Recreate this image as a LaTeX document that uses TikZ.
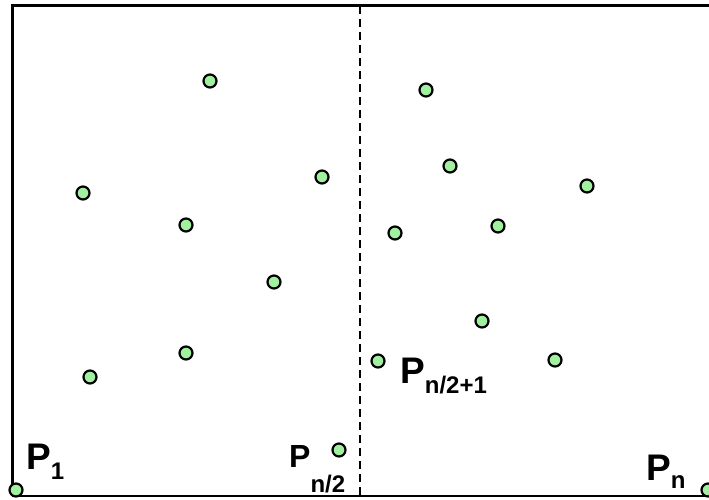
\documentclass[tikz,border=0pt]{standalone}
\usepackage{fontspec}
\setmainfont{Liberation Sans}
\begin{document}
\begin{tikzpicture}[x=1pt,y=-1pt,
  pt/.style={circle,draw=black,line width=2.2pt,fill=ptgreen,inner sep=0pt,minimum size=13pt},
  lbl/.style={anchor=base west,inner sep=0pt,font=\bfseries}]
\definecolor{ptgreen}{HTML}{A0F0A0}
\useasboundingbox (0,0) rectangle (709,500);
\draw[line width=3pt] (12,496) coordinate (bl) -- (12,6) coordinate (tl) -- (720,6) coordinate (tr);
\draw[line width=2.5pt] (bl) -- (720,496) coordinate (br);
\draw[line width=2pt,dash pattern=on 8pt off 5pt] (360,6) coordinate (dt) -- (360,496) coordinate (db);
\foreach \x/\y [count=\i] in {210/81,83/193,186/225,322/177,274/282,186/353,90/377,339/450,16/490,426/90,450/166,587/186,395/233,498/226,482/321,378/361,555/360,708/490}
  \node[pt] (p\i) at (\x,\y) {};
\node[lbl] (l1) at (26,469) {\fontsize{37}{37}\selectfont P\raisebox{-10pt}{\fontsize{24}{24}\selectfont 1}};
\node[lbl] (l2) at (289,467) {\fontsize{32}{32}\selectfont P\raisebox{-25pt}{\fontsize{24}{24}\selectfont n/2}};
\node[lbl] (l3) at (400,383) {\fontsize{37}{37}\selectfont P\raisebox{-10pt}{\fontsize{24}{24}\selectfont n/2+1}};
\node[lbl] (l4) at (646,480) {\fontsize{37}{37}\selectfont P\raisebox{-8pt}{\fontsize{24}{24}\selectfont n}};
\end{tikzpicture}
\end{document}
